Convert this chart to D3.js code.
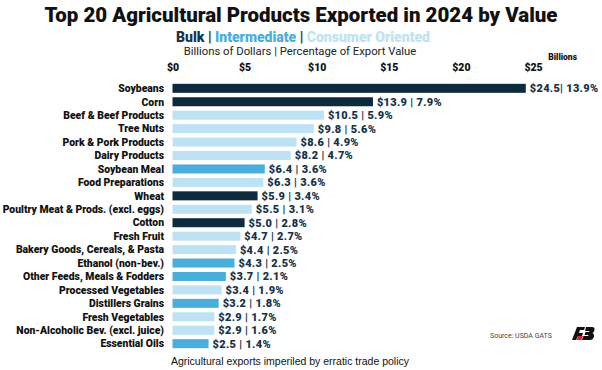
<!DOCTYPE html>
<html>
<head>
<meta charset="utf-8">
<script src="https://cdn.jsdelivr.net/npm/d3@7"></script>
<style>
  body { margin: 0; background: #fff; }
  svg { display: block; font-family: Roboto, "Liberation Sans", sans-serif; }
</style>
</head>
<body>
<svg id="chart" width="602" height="370"></svg>
<script>
const products = ["Soybeans", "Corn", "Beef & Beef Products", "Tree Nuts", "Pork & Pork Products",
  "Dairy Products", "Soybean Meal", "Food Preparations", "Wheat", "Poultry Meat & Prods. (excl. eggs)",
  "Cotton", "Fresh Fruit", "Bakery Goods, Cereals, & Pasta", "Ethanol (non-bev.)",
  "Other Feeds, Meals & Fodders", "Processed Vegetables", "Distillers Grains", "Fresh Vegetables",
  "Non-Alcoholic Bev. (excl. juice)", "Essential Oils"];
const values = [24.5, 13.9, 10.5, 9.8, 8.6, 8.2, 6.4, 6.3, 5.9, 5.5, 5.0, 4.7, 4.4, 4.3, 3.7, 3.4, 3.2, 2.9, 2.9, 2.5];
const shares = [13.9, 7.9, 5.9, 5.6, 4.9, 4.7, 3.6, 3.6, 3.4, 3.1, 2.8, 2.7, 2.5, 2.5, 2.1, 1.9, 1.8, 1.7, 1.6, 1.4];
const groups = ["Bulk", "Bulk", "Consumer", "Consumer", "Consumer", "Consumer", "Intermediate", "Consumer",
  "Bulk", "Consumer", "Bulk", "Consumer", "Consumer", "Intermediate", "Intermediate", "Consumer",
  "Intermediate", "Consumer", "Consumer", "Intermediate"];
const ticks = [0, 5, 10, 15, 20, 25];

const colors = { Bulk: "#0e2a3d", Intermediate: "#4aaedb", Consumer: "#bde2f3" };

const svg = d3.select("#chart");

const x = d3.scaleLinear().domain([0, 25]).range([172.5, 533]);
const y = d3.scaleBand().domain(products).range([81.6, 350.4]).paddingInner(0.33).paddingOuter(0.165);

// Title block
svg.append("text").attr("x", 301).attr("y", 22).attr("text-anchor", "middle")
  .attr("font-size", 21).attr("font-weight", 900).attr("fill", "#111")
  .attr("textLength", 513).attr("lengthAdjust", "spacingAndGlyphs")
  .text("Top 20 Agricultural Products Exported in 2024 by Value");

const leg = svg.append("text").attr("x", 303).attr("y", 42).attr("text-anchor", "middle")
  .attr("font-size", 14).attr("font-weight", 900);
leg.append("tspan").attr("fill", "#17354b").text("Bulk");
leg.append("tspan").attr("fill", "#17354b").text(" | ");
leg.append("tspan").attr("fill", "#4aaedb").text("Intermediate");
leg.append("tspan").attr("fill", "#17354b").text(" | ");
leg.append("tspan").attr("fill", "#bde2f3").text("Consumer Oriented");

svg.append("text").attr("x", 300).attr("y", 55).attr("text-anchor", "middle")
  .attr("font-size", 11.3).attr("fill", "#222")
  .text("Billions of Dollars | Percentage of Export Value");

svg.append("text").attr("x", 577).attr("y", 60).attr("text-anchor", "end")
  .attr("font-size", 8.5).attr("font-weight", 900).attr("fill", "#111").text("Billions");

// Axis
const axis = svg.append("g").attr("transform", "translate(0,74)")
  .call(d3.axisTop(x).tickValues(ticks).tickFormat(d => "$" + d).tickSize(0));
axis.select(".domain").remove();
axis.selectAll("text").attr("font-size", 10.5).attr("font-weight", 900).attr("fill", "#111")
  .attr("font-family", "Roboto, sans-serif");

// Bars
const rows = svg.append("g").selectAll("g").data(products).join("g");

rows.append("rect")
  .attr("x", x(0))
  .attr("y", d => y(d))
  .attr("width", (d, i) => x(values[i]) - x(0))
  .attr("height", y.bandwidth())
  .attr("fill", (d, i) => colors[groups[i]]);

rows.append("text")
  .attr("x", 164)
  .attr("y", d => y(d) + y.bandwidth() / 2)
  .attr("dy", "0.36em")
  .attr("text-anchor", "end")
  .attr("font-size", 10.4).attr("font-weight", 900).attr("fill", "#111")
  .text(d => d);

rows.append("text")
  .attr("x", (d, i) => x(values[i]) + 4)
  .attr("y", d => y(d) + y.bandwidth() / 2)
  .attr("dy", "0.36em")
  .attr("font-size", 11).attr("font-weight", 900).attr("fill", "#15324a")
  .attr("letter-spacing", 0.3)
  .text((d, i) => "$" + values[i].toFixed(1) + (i === 0 ? "| " : " | ") + shares[i].toFixed(1) + "%");

// Source and logo
svg.append("text").attr("x", 490).attr("y", 338).attr("font-size", 7).attr("fill", "#444")
  .text("Source: USDA GATS");

const logo = svg.append("g").attr("transform", "translate(574,327)");
logo.append("path").attr("d", "M3,0 H11 L10,3 H6 L5,6 H9 L8,9 H4 L2,13 H-2 Z").attr("fill", "#111");
logo.append("path").attr("d", "M4,9 H9 L7.5,13 H2.5 Z").attr("fill", "#d9262a");
logo.append("path").attr("d", "M12,0 H18 Q21,0 20.5,3 Q20,5.5 18.5,6 Q20.5,7 20,9.5 Q19,13 16,13 H8 L9.5,9 H14 L14.5,8 H10.5 L11.5,5 H15 L15.5,4 H11 Z").attr("fill", "#111");

// Caption
svg.append("text").attr("x", 290).attr("y", 365).attr("text-anchor", "middle")
  .attr("font-size", 10.5).attr("fill", "#111")
  .attr("font-family", "'Liberation Sans', Arial, sans-serif")
  .text("Agricultural exports imperiled by erratic trade policy");
</script>
</body>
</html>
